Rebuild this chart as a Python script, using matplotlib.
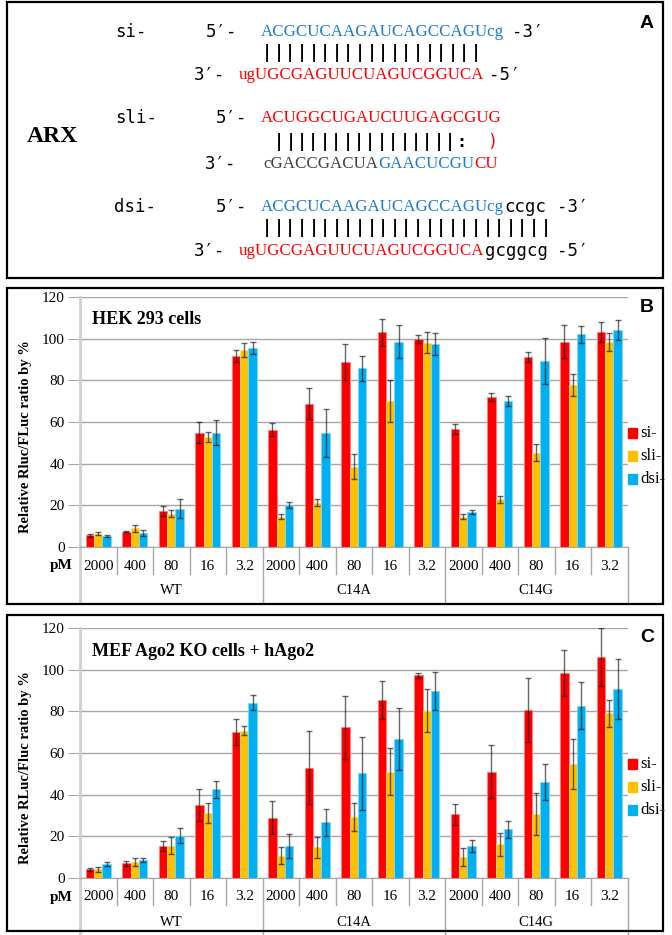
import numpy as np
import matplotlib
matplotlib.use("Agg")
import matplotlib.pyplot as plt
from matplotlib.patches import Rectangle

# ---- data -------------------------------------------------------------
conc = ["2000", "400", "80", "16", "3.2"] * 3
groups = ["WT", "C14A", "C14G"]
series = ["si-", "sli-", "dsi-"]
colors = ["#ff0000", "#ffc000", "#00b0f0"]
edges = ["#ff8080", "#ffdf80", "#80d8f8"]

# panel B, HEK 293 cells
b_si = [5.6, 7.4, 17.3, 54.9, 91.7, 56.3, 68.8, 88.8, 103.0, 99.7, 56.5, 72.0, 91.2, 98.6, 103.4]
b_si_err = [0.6, 0.3, 2.4, 5.0, 2.7, 3.2, 7.4, 8.5, 6.6, 2.0, 2.4, 2.0, 2.6, 8.0, 4.8]
b_sli = [6.4, 9.0, 16.0, 53.0, 94.4, 14.6, 21.3, 38.6, 70.1, 98.0, 14.6, 22.9, 45.3, 77.8, 98.6]
b_sli_err = [0.7, 1.8, 1.7, 2.4, 3.3, 1.2, 1.6, 6.0, 10.0, 5.0, 1.2, 1.8, 4.0, 5.3, 4.3]
b_dsi = [5.3, 6.7, 18.4, 54.9, 95.7, 20.0, 54.9, 85.8, 98.6, 97.6, 17.0, 70.1, 89.3, 102.1, 104.2]
b_dsi_err = [0.7, 1.3, 4.5, 6.0, 2.9, 1.4, 11.5, 6.0, 8.0, 5.3, 1.0, 2.5, 11.0, 4.0, 4.8]

# panel C, MEF Ago2 KO cells + hAgo2
c_si = [4.2, 7.0, 15.4, 35.0, 70.0, 29.0, 53.0, 72.3, 85.4, 97.3, 30.5, 51.0, 80.6, 98.5, 105.9]
c_si_err = [0.8, 1.3, 2.4, 7.6, 6.2, 8.0, 17.4, 15.2, 9.1, 1.3, 5.0, 12.8, 15.2, 10.9, 13.9]
c_sli = [4.2, 7.8, 15.4, 31.4, 70.7, 10.6, 14.7, 29.1, 51.0, 80.3, 9.9, 16.3, 30.7, 54.7, 79.0]
c_sli_err = [1.1, 2.0, 4.1, 4.8, 2.2, 4.1, 5.1, 6.7, 11.2, 10.2, 4.3, 5.5, 10.0, 11.9, 6.4]
c_dsi = [6.7, 8.6, 20.2, 42.6, 84.2, 15.4, 26.7, 50.2, 66.7, 89.8, 15.4, 23.4, 46.0, 82.7, 90.7]
c_dsi_err = [1.1, 1.0, 3.6, 4.1, 3.6, 5.7, 6.3, 17.6, 15.0, 9.0, 3.0, 4.1, 8.6, 11.2, 14.3]

W, H = 672, 935
SERIF = "Liberation Serif"
SANS = "Liberation Sans"
MONO = ["DejaVu Sans Mono", "DejaVu Sans"]


def fx(x):
    return x / W


def fy(y):
    return 1 - y / H


fig = plt.figure(figsize=(W / 100, H / 100), dpi=100)
rend = fig.canvas.get_renderer()


def txt(x, y, s, **kw):
    kw.setdefault("va", "center")
    return fig.text(fx(x), fy(y), s, **kw)


def chain(x, y, pieces):
    # pieces: (string, color, family)
    for s, col, fam in pieces:
        t = txt(x, y, s, color=col, family=fam, fontsize=12.2 if fam == SERIF else 12.5)
        x = t.get_window_extent(renderer=rend).x1


def bars(x0, y, n, pitch=11.6):
    for i in range(n):
        txt(x0 + i * pitch, y, "|", family=MONO, fontsize=12, weight="bold", ha="center")


# ---- panel boxes ------------------------------------------------------
for top, bot in [(2, 278), (288, 604), (615, 931)]:
    fig.add_artist(Rectangle((fx(7), fy(bot)), fx(656), (bot - top) / H,
                             fill=False, ec="black", lw=1.6, transform=fig.transFigure))

# ---- panel A ----------------------------------------------------------
blue = "#1a7ad4"
red = "#ff0000"
txt(647, 23, "A", family=SANS, weight="bold", fontsize=14, ha="center")
txt(27, 137, "ARX", family=SERIF, weight="bold", fontsize=17)

# si-
txt(115, 32, "si-", family=MONO, fontsize=12.5)
txt(206, 32, "5\u2032-", family=MONO, fontsize=12.5)
chain(261, 32, [("ACGCUCAAGAUCAGCCAGUcg", blue, SERIF)])
txt(512, 32, "-3\u2032", family=MONO, fontsize=12.5)
bars(267, 53, 19)
txt(194, 75, "3\u2032-", family=MONO, fontsize=12.5)
chain(239, 75, [("ugUGCGAGUUCUAGUCGGUCA", red, SERIF)])
txt(489, 75, "-5\u2032", family=MONO, fontsize=12.5)

# sli-
txt(115, 118, "sli-", family=MONO, fontsize=12.5)
txt(216, 118, "5\u2032-", family=MONO, fontsize=12.5)
chain(261, 118, [("ACUGGCUGAUCUUGAGCGUG", red, SERIF)])
bars(279, 142, 16, pitch=11.4)
txt(461, 142, ":", family=MONO, fontsize=12, weight="bold", ha="center")
txt(492, 142, ")", family=MONO, fontsize=12, ha="center", color=red)
txt(205, 164, "3\u2032-", family=MONO, fontsize=12.5)
chain(263, 164, [("cGACCGACUA", "#404040", SERIF), ("GAACUCGU", blue, SERIF),
                 ("CU", red, SERIF)])

# dsi-
txt(114, 207, "dsi-", family=MONO, fontsize=12.5)
txt(216, 207, "5\u2032-", family=MONO, fontsize=12.5)
chain(261, 207, [("ACGCUCAAGAUCAGCCAGUcg", blue, SERIF), ("ccgc", "black", MONO)])
txt(557, 207, "-3\u2032", family=MONO, fontsize=12.5)
bars(267, 228, 25)
txt(194, 251, "3\u2032-", family=MONO, fontsize=12.5)
chain(239, 251, [("ugUGCGAGUUCUAGUCGGUCA", red, SERIF), ("gcggcg", "black", MONO)])
txt(557, 251, "-5\u2032", family=MONO, fontsize=12.5)


# ---- bar panels -------------------------------------------------------
def panel(top, vals, errs, title, letter, ylab):
    ax = fig.add_axes([fx(80), fy(top + 250), (627.5 - 80) / W, 250 / H])
    x = np.arange(len(conc))
    w = 0.23
    for k in range(3):
        ax.bar(x + (k - 1) * w, vals[k], w, yerr=errs[k], color=colors[k],
               edgecolor=edges[k], linewidth=0.6,
               error_kw=dict(ecolor=(0, 0, 0, 0.6), elinewidth=1, capsize=2, capthick=1))
    ax.set_xlim(-0.5, 14.5)
    ax.set_ylim(0, 120)
    ax.set_yticks(range(0, 121, 20))
    ax.set_xticks([])
    ax.yaxis.grid(True, color="#a6a6a6", lw=1)
    ax.set_axisbelow(True)
    for s in ["top", "right"]:
        ax.spines[s].set_visible(False)
    ax.spines["left"].set_color("#d0d0d0")
    ax.spines["left"].set_linewidth(2)
    ax.spines["bottom"].set_color("#a6a6a6")
    ax.tick_params(axis="y", length=9, color="#a6a6a6", pad=2, labelsize=11)
    for lab in ax.get_yticklabels():
        lab.set_family(SERIF)

    tr = ax.get_xaxis_transform()
    px = 1 / 250
    for b in np.arange(-0.5, 15, 1):
        major = b in (-0.5, 4.5, 9.5, 14.5)
        depth = 56 if major else 27
        ax.plot([b, b], [0, -depth * px], transform=tr, clip_on=False,
                color="#d0d0d0" if b == -0.5 else "#a6a6a6", lw=2 if b == -0.5 else 1)
    for i, c in enumerate(conc):
        ax.text(i, -19 * px, c, transform=tr, ha="center", va="center",
                family=SERIF, fontsize=11)
    for g, name in enumerate(groups):
        ax.text(2 + 5 * g, -44 * px, name, transform=tr, ha="center", va="center",
                family=SERIF, fontsize=10.5)
    txt(61, top + 250 + 19, "pM", family=SERIF, weight="bold", fontsize=11, ha="center")

    txt(92, top + 23, title, family=SERIF, weight="bold", fontsize=13)
    txt(647, top + 10, letter, family=SANS, weight="bold", fontsize=14, ha="center")
    txt(26, top + 140, ylab, family=SERIF, weight="bold", fontsize=10.5,
        rotation=90, ha="center")

    # legend
    for k in range(3):
        yy = top + 136 + 23 * k
        fig.add_artist(Rectangle((fx(628), fy(yy + 5)), 9 / W, 10 / H, color=colors[k],
                                 transform=fig.transFigure))
        txt(640, yy, series[k], family=SERIF, fontsize=12)
    return ax


panel(297, [b_si, b_sli, b_dsi], [b_si_err, b_sli_err, b_dsi_err],
      "HEK 293 cells", "B", "Relative Rluc/FLuc ratio by %")
panel(628, [c_si, c_sli, c_dsi], [c_si_err, c_sli_err, c_dsi_err],
      "MEF Ago2 KO cells + hAgo2", "C", "Relative RLuc/Fluc ratio by %")

fig.savefig("out.png", dpi=100)
